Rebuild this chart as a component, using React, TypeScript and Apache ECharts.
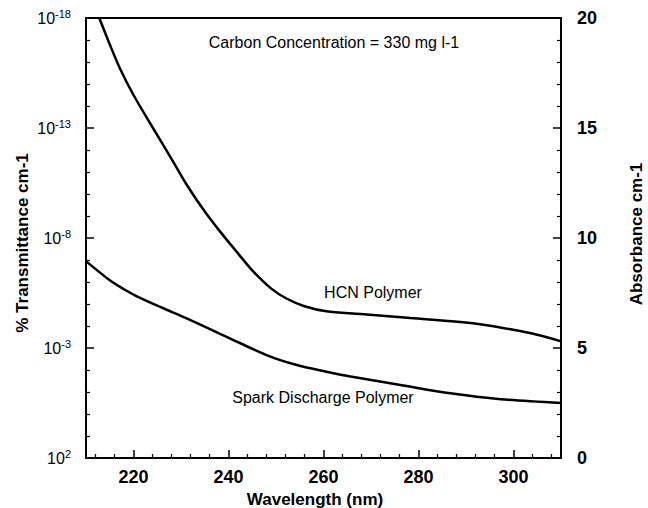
import React, { useEffect, useRef } from "react";
import * as echarts from "echarts";

// Wavelength (nm) and absorbance (cm-1)
const hcnWavelength = [212.8, 215, 217.1, 220, 224.1, 228, 231.2, 235, 238.2, 242, 245.2, 249, 252.2, 256, 260.6, 267.8, 278.3, 288.8, 294, 299.4, 305, 310];
const hcnAbsorbance = [20.0, 18.8, 17.73, 16.5, 15.0, 13.6, 12.42, 11.2, 10.3, 9.3, 8.48, 7.7, 7.25, 6.9, 6.67, 6.55, 6.36, 6.18, 6.05, 5.85, 5.6, 5.3];

const sparkWavelength = [210, 215, 218, 220.6, 226, 231.2, 239.6, 248, 254, 260.6, 265.7, 276.2, 286.7, 297.3, 310];
const sparkAbsorbance = [8.95, 8.08, 7.67, 7.36, 6.83, 6.35, 5.51, 4.68, 4.25, 3.92, 3.7, 3.32, 2.94, 2.67, 2.5];

const xMajorTicks = [220, 240, 260, 280, 300];
const xMinorTicks = [212, 216, 224, 228, 232, 236, 244, 248, 252, 256, 264, 268, 272, 276, 284, 288, 292, 296, 304, 308];

const seriesLabels = ["HCN Polymer", "Spark Discharge Polymer"];
const annotation = "Carbon Concentration = 330 mg l-1";

const FONT = '"Liberation Sans", Arial, Helvetica, sans-serif';

export default function App() {
  const ref = useRef<HTMLDivElement>(null);

  useEffect(() => {
    if (!ref.current) return;
    const chart = echarts.init(ref.current, null, { renderer: "svg" });

    const yAxisBase = {
      type: "value",
      min: 0,
      max: 20,
      interval: 5,
      splitLine: { show: false },
      axisLine: { show: true, lineStyle: { color: "#000", width: 2 } },
      axisTick: { show: true, inside: true, length: 8, lineStyle: { color: "#000", width: 1.5 } },
      minorTick: { show: true, splitNumber: 5, length: 4, lineStyle: { color: "#000", width: 1.2 } },
    };

    const textStyle = (text: string, font: string) => ({
      text,
      font,
      fill: "#000",
      align: "center",
      verticalAlign: "middle",
      textAlign: "center",
      textVerticalAlign: "middle",
    });

    const option: any = {
      animation: false,
      backgroundColor: "#fff",
      grid: {
        left: 86,
        right: 87,
        top: 18,
        bottom: 50,
        show: true,
        borderColor: "#000",
        borderWidth: 2,
        backgroundColor: "transparent",
      },
      xAxis: [
        {
          type: "value",
          min: 210,
          max: 310,
          position: "bottom",
          splitLine: { show: false },
          axisLine: { show: true, onZero: false, lineStyle: { color: "#000", width: 2 } },
          axisTick: {
            show: true,
            inside: true,
            length: 8,
            customValues: xMajorTicks,
            lineStyle: { color: "#000", width: 1.5 },
          },
          axisLabel: {
            show: true,
            customValues: xMajorTicks,
            margin: 10,
            fontSize: 18,
            fontWeight: "bold",
            fontFamily: FONT,
            color: "#000",
          },
        },
        {
          type: "value",
          min: 210,
          max: 310,
          position: "bottom",
          gridIndex: 0,
          splitLine: { show: false },
          axisLine: { show: false, onZero: false },
          axisTick: {
            show: true,
            inside: true,
            length: 4,
            customValues: xMinorTicks,
            lineStyle: { color: "#000", width: 1.2 },
          },
          axisLabel: { show: false },
        },
      ],
      yAxis: [
        {
          ...yAxisBase,
          position: "left",
          axisLabel: {
            margin: 15,
            fontSize: 16,
            fontFamily: FONT,
            color: "#000",
            formatter: (v: number) => `10{sup|${Math.round(2 - v)}}`,
            rich: {
              sup: { fontSize: 11, fontFamily: FONT, color: "#000", padding: [0, 0, 9, 0] },
            },
          },
        },
        {
          ...yAxisBase,
          position: "right",
          axisLabel: {
            margin: 16,
            fontSize: 18,
            fontWeight: "bold",
            fontFamily: FONT,
            color: "#000",
          },
        },
      ],
      series: [
        {
          name: seriesLabels[0],
          type: "line",
          xAxisIndex: 0,
          yAxisIndex: 1,
          data: hcnWavelength.map((w, i) => [w, hcnAbsorbance[i]]),
          showSymbol: false,
          smooth: 0.3,
          clip: true,
          lineStyle: { color: "#000", width: 2.5 },
        },
        {
          name: seriesLabels[1],
          type: "line",
          xAxisIndex: 0,
          yAxisIndex: 1,
          data: sparkWavelength.map((w, i) => [w, sparkAbsorbance[i]]),
          showSymbol: false,
          smooth: 0.3,
          clip: true,
          lineStyle: { color: "#000", width: 2.5 },
        },
      ],
      graphic: [
        { type: "text", x: 334, y: 42, style: textStyle(annotation, `16px ${FONT}`) },
        { type: "text", x: 373, y: 292, style: textStyle(seriesLabels[0], `16px ${FONT}`) },
        { type: "text", x: 323, y: 397, style: textStyle(seriesLabels[1], `16px ${FONT}`) },
        { type: "text", x: 315, y: 499, style: textStyle("Wavelength (nm)", `bold 17px ${FONT}`) },
        {
          type: "text",
          x: 22,
          y: 243,
          rotation: Math.PI / 2,
          style: textStyle("% Transmittance cm-1", `bold 17px ${FONT}`),
        },
        {
          type: "text",
          x: 636,
          y: 234,
          rotation: Math.PI / 2,
          style: textStyle("Absorbance cm-1", `bold 17px ${FONT}`),
        },
      ],
    };

    chart.setOption(option);
    return () => chart.dispose();
  }, []);

  return (
    <div
      ref={ref}
      style={{ position: "absolute", left: 0, top: 0, width: 648, height: 508, background: "#fff" }}
    />
  );
}
